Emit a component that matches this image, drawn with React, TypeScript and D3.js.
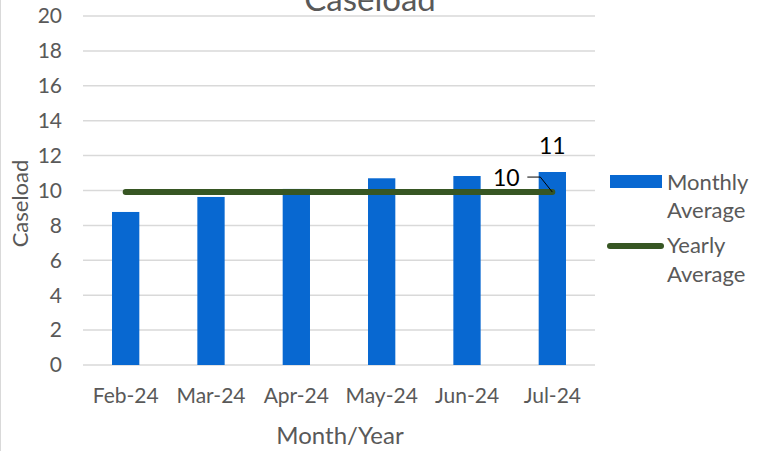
import React from "react";
import * as d3 from "d3";

// data
const months = ["Feb-24", "Mar-24", "Apr-24", "May-24", "Jun-24", "Jul-24"];
const monthlyAvg = [8.77, 9.63, 10.09, 10.7, 10.83, 11.06];
const yearlyAvg = [9.91, 9.91, 9.91, 9.91, 9.91, 9.91];
const yTicks = [0, 2, 4, 6, 8, 10, 12, 14, 16, 18, 20];

const W = 767;
const H = 451;
const margin = { top: 16, right: 172, bottom: 86, left: 83 };
const FONT = "Lato, 'Open Sans', sans-serif";
const GREY = "#595959";
const BLUE = "#0868d1";
const GREEN = "#375623";

export default function App() {
  const x = d3
    .scaleBand()
    .domain(months)
    .range([margin.left, W - margin.right])
    .paddingInner(0.68)
    .paddingOuter(0.34);
  const y = d3.scaleLinear().domain([0, 20]).range([H - margin.bottom, margin.top]);
  const cx = (m: string) => (x(m) as number) + x.bandwidth() / 2;

  const line = d3
    .line<number>()
    .x((_, i) => cx(months[i]))
    .y((d) => y(d));

  const last = months.length - 1;
  const lastX = cx(months[last]);
  const lineY = y(yearlyAvg[last]);

  return (
    <div style={{ position: "fixed", left: 0, top: 0 }}>
      <svg width={W} height={H} style={{ display: "block", background: "#fff" }} fontFamily={FONT}>
        <line x1={0.5} x2={0.5} y1={0} y2={H} stroke="#d9d9d9" />
        {/* gridlines */}
        {yTicks.map((t) => (
          <g key={t}>
            <line x1={margin.left} x2={W - margin.right} y1={y(t)} y2={y(t)} stroke="#d9d9d9" strokeWidth={1.5} />
            <text x={margin.left - 21} y={y(t)} dy="0.35em" textAnchor="end" fontSize={21} fill={GREY}>
              {t}
            </text>
          </g>
        ))}
        {/* bars */}
        {months.map((m, i) => (
          <rect key={m} x={x(m)} y={y(monthlyAvg[i])} width={x.bandwidth()} height={y(0) - y(monthlyAvg[i])} fill={BLUE} />
        ))}
        {/* yearly average line */}
        <path d={line(yearlyAvg) as string} fill="none" stroke={GREEN} strokeWidth={6} strokeLinecap="round" />
        {/* data labels */}
        <text x={lastX} y={146} dy="0.35em" textAnchor="middle" fontSize={23} fill="#000">
          {Math.round(monthlyAvg[last])}
        </text>
        <text x={lastX - 46} y={lineY - 14} dy="0.35em" textAnchor="middle" fontSize={23} fill="#000">
          {Math.round(yearlyAvg[last])}
        </text>
        <polyline
          points={`${lastX - 25},${lineY - 15} ${lastX - 12},${lineY - 15} ${lastX},${lineY}`}
          fill="none"
          stroke="#000"
          strokeWidth={1}
        />
        {/* x tick labels */}
        {months.map((m) => (
          <text key={m} x={cx(m)} y={y(0) + 31} dy="0.35em" textAnchor="middle" fontSize={21} fill={GREY}>
            {m}
          </text>
        ))}
        {/* titles */}
        <text x={370} y={11} textAnchor="middle" fontSize={33} fill={GREY}>
          Caseload
        </text>
        <text
          transform={`translate(28,${(y(0) + y(20)) / 2 + 13}) rotate(-90)`}
          textAnchor="middle"
          fontSize={22}
          fill={GREY}
        >
          Caseload
        </text>
        <text x={340} y={436} dy="0.35em" textAnchor="middle" fontSize={24} fill={GREY}>
          Month/Year
        </text>
        {/* legend */}
        <rect x={610} y={175} width={52} height={13} fill={BLUE} />
        <text x={667} y={182} dy="0.35em" fontSize={22} fill={GREY}>Monthly</text>
        <text x={667} y={210} dy="0.35em" fontSize={22} fill={GREY}>Average</text>
        <line x1={610} x2={661} y1={246} y2={246} stroke={GREEN} strokeWidth={6} strokeLinecap="round" />
        <text x={667} y={245} dy="0.35em" fontSize={22} fill={GREY}>Yearly</text>
        <text x={667} y={274} dy="0.35em" fontSize={22} fill={GREY}>Average</text>
      </svg>
    </div>
  );
}
